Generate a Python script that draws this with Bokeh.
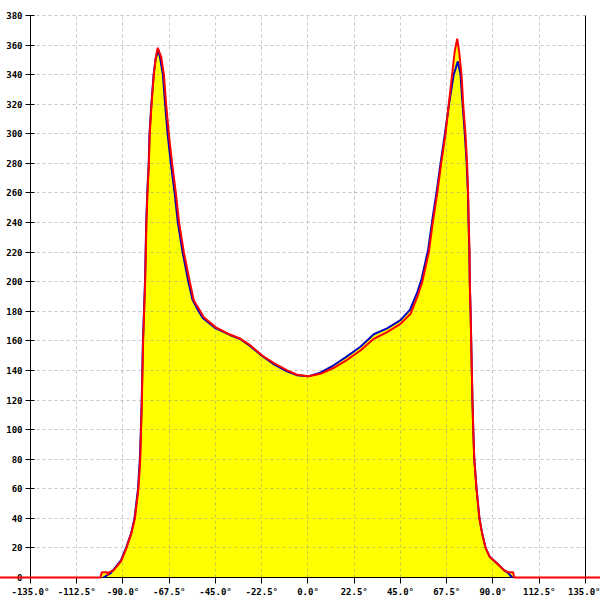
from bokeh.plotting import figure
from bokeh.models import LinearAxis, FixedTicker, PrintfTickFormatter, Range1d
from bokeh.embed import file_html
from bokeh.resources import INLINE

# ---- data ----
x_ticks = [-135.0, -112.5, -90.0, -67.5, -45.0, -22.5, 0.0, 22.5, 45.0, 67.5, 90.0, 112.5, 135.0]
y_ticks = [0, 20, 40, 60, 80, 100, 120, 140, 160, 180, 200, 220, 240, 260, 280, 300, 320, 340, 360, 380]

red_angle = [-180, -101, -100.3, -97.7, -97.3, -96.8, -94.5, -90.9, -88.3, -85.9, -84.2, -82.5,
             -81.6, -81.2, -80.8, -80.5, -80.2, -79.7, -79.2, -78.9, -78.6, -78.1, -77.4, -77.0,
             -76.1, -75.0, -74.0, -73.1, -71.4, -70.1, -69.0, -67.7, -66.1, -64.3, -62.7, -60.4,
             -57.5, -55.6, -52.6, -50.7, -45.0, -37.7, -32.8, -28.0, -22.3, -16.6, -10.1, -5.3,
             0.4, 6.1, 12.6, 19.1, 25.5, 32.0, 38.5, 45.0, 49.9, 53.5, 55.6, 58.8, 60.7, 62.9,
             64.8, 66.9, 68.5, 70.1, 71.4, 72.6, 73.5, 74.7, 75.5, 76.6, 77.4, 77.9, 78.2, 78.6,
             78.7, 79.1, 79.4, 79.7, 80.0, 80.4, 80.9, 82.0, 83.4, 84.7, 86.4, 88.4, 92.0, 95.3,
             97.5, 99.8, 100.3, 180]
red_value = [0, 0, 3.5, 3.5, 1.5, 3.5, 5, 11, 20, 30, 40, 60,
             80, 100, 120, 140, 160, 180, 200, 220, 240, 260, 280, 300,
             320, 340, 351.8, 358.2, 351.8, 340, 320, 300, 280, 260, 240, 220,
             200, 187.5, 180.5, 176, 169.3, 164.1, 161.4, 156.9, 150.1, 144.9, 140, 137.1,
             136.1, 137.7, 141.8, 147.2, 153.5, 161.4, 165.9, 171.5, 178.3, 191, 200, 220, 240, 260,
             280, 300, 320, 340, 356, 364.3, 356, 340, 320, 300, 280, 260, 240, 220,
             200, 180, 160, 140, 120, 100, 80, 60, 40, 30, 20, 14, 9.5, 5,
             3.5, 3.5, 0, 0]

blue_angle = [-99.5, -96.0, -94.5, -91.0, -88.5, -86.0, -84.4, -82.7, -81.8, -81.3, -80.9, -80.6,
              -80.3, -79.8, -79.3, -79.0, -78.7, -78.2, -77.5, -77.1, -76.2, -75.1, -74.1, -72.7,
              -71.8, -70.6, -69.5, -68.3, -66.7, -64.9, -63.3, -61.0, -58.2, -56.2, -53.2, -51.2,
              -45.5, -38.0, -33.0, -28.2, -22.5, -17.0, -10.5, -5.5, 0.0, 6.0, 12.5, 19.0,
              25.5, 32.0, 38.5, 45.0, 49.6, 53.2, 55.3, 58.5, 60.5, 62.7, 64.7, 66.8,
              68.6, 70.9, 72.9, 74.2, 75.2, 76.3, 77.2, 77.8, 78.1, 78.5, 78.7, 79.1,
              79.4, 79.7, 80.0, 80.4, 80.9, 82.0, 83.4, 84.7, 86.4, 88.4, 92.0, 95.3,
              97.5, 99.3]
blue_value = [0, 3, 5.5, 11.5, 20, 30, 40, 60, 80, 100, 120, 140,
              160, 180, 200, 220, 240, 260, 280, 300, 320, 340, 351, 356.8,
              350, 340, 320, 300, 280, 260, 240, 220, 200, 188, 180, 175.5,
              169, 164, 161.3, 156.5, 150, 144.5, 139.5, 136.8, 136, 138.5, 143.5, 149.5,
              156, 164.5, 168.5, 174, 181, 193, 202, 222, 242, 262, 282, 302,
              320, 340, 349, 340, 320, 300, 280, 260, 240, 220, 200, 180,
              160, 140, 120, 100, 80, 60, 40, 30, 20, 14, 9.5, 5,
              3, 0]

# ---- figure ----
p = figure(width=600, height=600,
           x_range=Range1d(-149.59, 142.30), y_range=Range1d(-15.55, 390.14),
           output_backend="svg", toolbar_location=None, min_border=0)
p.outline_line_color = None
p.background_fill_color = "white"
p.border_fill_color = "white"

YELLOW = "#ffff00"
p.varea(x=red_angle, y1=0, y2=red_value, fill_color=YELLOW, level="underlay")
p.varea(x=blue_angle, y1=0, y2=blue_value, fill_color=YELLOW, level="underlay")
p.line(blue_angle, blue_value, line_color="#0000c0", line_width=2, level="overlay")
p.line(red_angle, red_value, line_color="#ff0000", line_width=2, level="overlay")

FONT = "DejaVu Sans Mono"
FSIZE = "9px"

xa = p.xaxis[0]
xa.fixed_location = 0
xa.ticker = FixedTicker(ticks=x_ticks)
xa.formatter = PrintfTickFormatter(format="%.1f°")
xa.bounds = (-135, 135)
xa.major_tick_in = 0
xa.major_tick_out = 6
xa.minor_tick_line_color = None
xa.major_label_standoff = 3
xa.major_label_text_font = FONT
xa.major_label_text_font_size = FSIZE
xa.major_label_text_font_style = "bold"
xa.major_label_text_color = "black"
xa.axis_line_color = "black"
xa.major_tick_line_color = "black"

ya = p.yaxis[0]
ya.fixed_location = -135
ya.ticker = FixedTicker(ticks=y_ticks)
ya.bounds = (0, 380)
ya.major_tick_in = 4
ya.major_tick_out = 5
ya.minor_tick_line_color = None
ya.major_label_standoff = 3
ya.major_label_text_font = FONT
ya.major_label_text_font_size = FSIZE
ya.major_label_text_font_style = "bold"
ya.major_label_text_color = "black"
ya.axis_line_color = "black"
ya.major_tick_line_color = "black"

ra = LinearAxis(fixed_location=135, bounds=(0, 380), ticker=FixedTicker(ticks=[]),
                major_label_text_font_size="0px", minor_tick_line_color=None,
                major_tick_line_color=None, axis_line_color="black")
p.add_layout(ra, "right")

for g, cb in ((p.xgrid, (0, 380)), (p.ygrid, (-135, 135))):
    g.cross_bounds = cb
    g.grid_line_color = "#999999"
    g.grid_line_alpha = 0.55
    g.grid_line_dash = "3 3"
    g.grid_line_width = 1
    g.level = "glyph"

open("out.html", "w").write(file_html(p, INLINE))
